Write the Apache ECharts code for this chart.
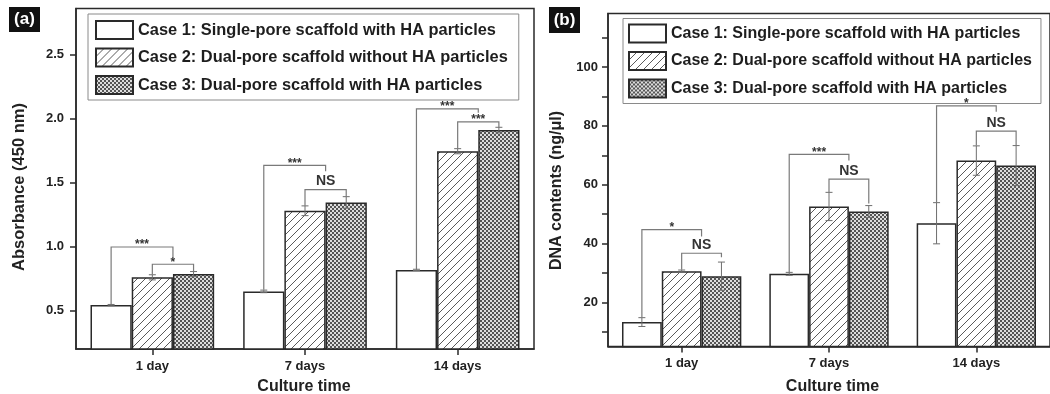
<!DOCTYPE html>
<html>
<head>
<meta charset="utf-8">
<script src="https://cdn.jsdelivr.net/npm/echarts@6/dist/echarts.min.js"></script>
<style>html,body{margin:0;padding:0;background:#fff}#c{width:1050px;height:394px}</style>
</head>
<body>
<div id="c"></div>
<script>
// ---------- data ----------
const categories = ['1 day', '7 days', '14 days'];
const caseNames = [
  'Case 1: Single-pore scaffold with HA particles',
  'Case 2: Dual-pore scaffold without HA particles',
  'Case 3: Dual-pore scaffold with HA particles'
];
// (a) Absorbance (450 nm)
const absCase1 = [0.543, 0.650, 0.818];
const absCase2 = [0.760, 1.280, 1.745];
const absCase3 = [0.785, 1.345, 1.910];
const absErr1 = [0.005, 0.010, 0.005];
const absErr2 = [0.020, 0.038, 0.020];
const absErr3 = [0.020, 0.045, 0.022];
const absTicks = [0.5, 1.0, 1.5, 2.0, 2.5];
// brackets: [category, fromBar, toBar, top, leftEnd, rightEnd]
const absBrackets = [
  [0, 0, 1.5, 0.997, 0.550, 0.917],
  [0, 1, 2, 0.862, 0.782, 0.805],
  [1, 0, 1.5, 1.635, 0.662, 1.588],
  [1, 1, 2, 1.445, 1.320, 1.392],
  [2, 0, 1.5, 2.076, 0.825, 2.045],
  [2, 1, 2, 1.974, 1.767, 1.932]
];
const absBracketLabels = ['***', '*', '***', 'NS', '***', '***'];
// (b) DNA contents (ng/μl)
const dnaCase1 = [13.3, 29.7, 46.9];
const dnaCase2 = [30.6, 52.6, 68.2];
const dnaCase3 = [28.9, 50.9, 66.5];
const dnaErr1 = [1.5, 0.5, 7.0];
const dnaErr2 = [0.4, 4.8, 5.0];
const dnaErr3 = [4.8, 2.0, 6.8];
const dnaTicks = [20, 40, 60, 80, 100];
const dnaMinorTicks = [10, 20, 30, 40, 50, 60, 70, 80, 90, 100, 110];
const dnaBrackets = [
  [0, 0, 1.5, 44.7, 15.0, 42.4],
  [0, 1, 2, 36.7, 31.1, 35.3],
  [1, 0, 1.5, 70.3, 30.3, 68.2],
  [1, 1, 2, 61.9, 57.5, 53.6],
  [2, 0, 1.5, 86.8, 54.0, 84.8],
  [2, 1, 2, 78.2, 73.3, 73.4]
];
const dnaBracketLabels = ['*', 'NS', '***', 'NS', '*', 'NS'];

// ---------- patterns ----------
function hatchCanvas() {
  const c = document.createElement('canvas'); c.width = 8; c.height = 8;
  const g = c.getContext('2d');
  g.fillStyle = '#ffffff'; g.fillRect(0, 0, 8, 8);
  g.strokeStyle = '#5a5a5a'; g.lineWidth = 1;
  g.beginPath();
  g.moveTo(-1, 9); g.lineTo(9, -1);
  g.moveTo(-1, 1); g.lineTo(1, -1);
  g.moveTo(7, 9); g.lineTo(9, 7);
  g.stroke();
  return c;
}
function checkerCanvas() {
  const c = document.createElement('canvas'); c.width = 4; c.height = 4;
  const g = c.getContext('2d');
  g.fillStyle = '#dedede'; g.fillRect(0, 0, 4, 4);
  g.fillStyle = '#555555'; g.fillRect(0, 0, 2, 2); g.fillRect(2, 2, 2, 2);
  return c;
}
const fills = [
  '#ffffff',
  { image: hatchCanvas(), repeat: 'repeat' },
  { image: checkerCanvas(), repeat: 'repeat' }
];

const FONT = 'Liberation Sans';
const GAP = 0.19;

function barSeries(values, idx, axisIdx) {
  return {
    type: 'bar', name: caseNames[idx], data: values,
    xAxisIndex: axisIdx, yAxisIndex: axisIdx,
    barGap: '0%', barCategoryGap: (GAP * 100) + '%',
    itemStyle: { color: fills[idx], borderColor: '#2a2a2a', borderWidth: 1.5 },
    emphasis: { disabled: true }, animation: false
  };
}
function errorSeries(vals, errs, axisIdx) {
  const data = [];
  for (let i = 0; i < 3; i++) for (let j = 0; j < 3; j++) data.push([j, i, vals[i][j], errs[i][j]]);
  return {
    type: 'custom', xAxisIndex: axisIdx, yAxisIndex: axisIdx, z: 6, silent: true, animation: false,
    data: data,
    renderItem: function (params, api) {
      const cat = api.value(0), bar = api.value(1), v = api.value(2), e = api.value(3);
      const band = api.size([1, 0])[0];
      const bw = band * (1 - GAP) / 3;
      const x = api.coord([cat, 0])[0] + (bar - 1) * bw;
      const yH = api.coord([cat, v + e])[1];
      const yL = api.coord([cat, v - e])[1];
      const st = { stroke: '#6e6e6e', lineWidth: 1 };
      return { type: 'group', children: [
        { type: 'line', shape: { x1: x, y1: yH, x2: x, y2: yL }, style: st },
        { type: 'line', shape: { x1: x - 3.5, y1: yH, x2: x + 3.5, y2: yH }, style: st },
        { type: 'line', shape: { x1: x - 3.5, y1: yL, x2: x + 3.5, y2: yL }, style: st }
      ]};
    }
  };
}
function bracketSeries(data, labels, axisIdx) {
  return {
    type: 'custom', xAxisIndex: axisIdx, yAxisIndex: axisIdx, z: 7, silent: true, animation: false,
    data: data,
    renderItem: function (params, api) {
      const cat = api.value(0);
      const band = api.size([1, 0])[0];
      const bw = band * (1 - GAP) / 3;
      const cx = api.coord([cat, 0])[0];
      const x1 = cx + (api.value(1) - 1) * bw;
      const x2 = cx + (api.value(2) - 1) * bw;
      const yT = api.coord([cat, api.value(3)])[1];
      const yLft = api.coord([cat, api.value(4)])[1];
      const yRgt = api.coord([cat, api.value(5)])[1];
      const lab = labels[params.dataIndex];
      const ns = lab === 'NS';
      return { type: 'group', children: [
        { type: 'polyline', shape: { points: [[x1, yLft], [x1, yT], [x2, yT], [x2, yRgt]] },
          style: { stroke: '#7a7a7a', lineWidth: 1.2, fill: null } },
        { type: 'text', x: (x1 + x2) / 2, y: ns ? yT - 1 : yT + 4,
          style: { text: lab, align: 'center', verticalAlign: 'bottom',
            font: 'bold ' + (ns ? 14 : 12) + 'px "' + FONT + '"', fill: '#333' } }
      ]};
    }
  };
}

const labelStyle = { fontFamily: FONT, fontWeight: 'bold', fontSize: 13, color: '#222' };
const legendBase = {
  data: caseNames, orient: 'vertical', icon: 'rect',
  itemWidth: 37, itemHeight: 18, itemGap: 7.5, itemTextGap: 5,
  borderColor: '#8a8a8a', borderWidth: 1, selectedMode: false
};

const option = {
  animation: false,
  backgroundColor: '#ffffff',
  grid: [
    { left: 76, top: 8.5, width: 458, height: 340.5, show: true, borderColor: '#2a2a2a', borderWidth: 1.5, backgroundColor: 'transparent' },
    { left: 608, top: 13.5, width: 444, height: 333, show: true, borderColor: '#2a2a2a', borderWidth: 1.5, backgroundColor: 'transparent' }
  ],
  xAxis: [0, 1].map(i => ({
    type: 'category', gridIndex: i, data: categories,
    axisLine: { show: true, lineStyle: { color: '#2a2a2a', width: 1.5 } },
    axisTick: { show: true, alignWithLabel: true, length: 6, lineStyle: { color: '#2a2a2a', width: 1.5 } },
    axisLabel: Object.assign({ margin: i === 0 ? 11 : 10 }, labelStyle),
    splitLine: { show: false }
  })),
  yAxis: [
    { type: 'value', gridIndex: 0, min: 0.2, max: 2.86,
      axisLine: { show: true, lineStyle: { color: '#2a2a2a', width: 1.5 } },
      axisTick: { show: true, length: 6, customValues: absTicks, lineStyle: { color: '#2a2a2a', width: 1.5 } },
      axisLabel: Object.assign({ margin: 12, customValues: absTicks, formatter: v => v.toFixed(1) }, labelStyle),
      splitLine: { show: false } },
    { type: 'value', gridIndex: 1, min: 5, max: 118.2,
      axisLine: { show: true, lineStyle: { color: '#2a2a2a', width: 1.5 } },
      axisTick: { show: true, length: 6, customValues: dnaMinorTicks, lineStyle: { color: '#2a2a2a', width: 1.5 } },
      axisLabel: Object.assign({ margin: 10, customValues: dnaTicks }, labelStyle),
      splitLine: { show: false } }
  ],
  legend: [
    Object.assign({}, legendBase, { left: 88, top: 14, padding: [6, 11, 5, 7],
      textStyle: { fontFamily: FONT, fontWeight: 'bold', fontSize: 16.4, color: '#1e1e1e' } }),
    Object.assign({}, legendBase, { left: 623, top: 18.5, padding: [5, 9, 5, 5],
      textStyle: { fontFamily: FONT, fontWeight: 'bold', fontSize: 16, color: '#1e1e1e' } })
  ],
  series: [
    barSeries(absCase1, 0, 0), barSeries(absCase2, 1, 0), barSeries(absCase3, 2, 0),
    barSeries(dnaCase1, 0, 1), barSeries(dnaCase2, 1, 1), barSeries(dnaCase3, 2, 1),
    errorSeries([absCase1, absCase2, absCase3], [absErr1, absErr2, absErr3], 0),
    errorSeries([dnaCase1, dnaCase2, dnaCase3], [dnaErr1, dnaErr2, dnaErr3], 1),
    bracketSeries(absBrackets, absBracketLabels, 0),
    bracketSeries(dnaBrackets, dnaBracketLabels, 1)
  ],
  graphic: [
    { type: 'rect', left: 9, top: 7, shape: { width: 31, height: 25 }, style: { fill: '#111' } },
    { type: 'text', x: 24.5, y: 19.5, style: { text: '(a)', align: 'center', verticalAlign: 'middle', font: 'bold 17px "' + FONT + '"', fill: '#fff' } },
    { type: 'rect', left: 549, top: 7, shape: { width: 31, height: 26 }, style: { fill: '#111' } },
    { type: 'text', x: 564.5, y: 20, style: { text: '(b)', align: 'center', verticalAlign: 'middle', font: 'bold 17px "' + FONT + '"', fill: '#fff' } },
    { type: 'text', x: 19, y: 187, rotation: Math.PI / 2, style: { text: 'Absorbance (450 nm)', align: 'center', verticalAlign: 'middle', font: 'bold 16.5px "' + FONT + '"', fill: '#222' } },
    { type: 'text', x: 557, y: 190.5, rotation: Math.PI / 2, style: { text: 'DNA contents (ng/μl)', align: 'center', verticalAlign: 'middle', font: 'bold 16px "' + FONT + '"', fill: '#222' } },
    { type: 'text', x: 304, y: 387, style: { text: 'Culture time', align: 'center', verticalAlign: 'middle', font: 'bold 16px "' + FONT + '"', fill: '#222' } },
    { type: 'text', x: 832.5, y: 387, style: { text: 'Culture time', align: 'center', verticalAlign: 'middle', font: 'bold 16px "' + FONT + '"', fill: '#222' } }
  ]
};

const chart = echarts.init(document.getElementById('c'), null, { renderer: 'canvas' });
chart.setOption(option);
</script>
</body>
</html>
